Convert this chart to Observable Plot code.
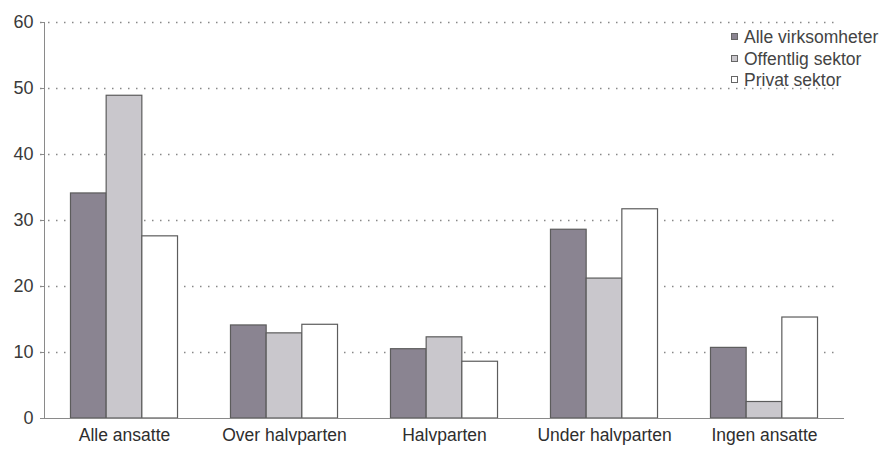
<!DOCTYPE html>
<html>
<head>
<meta charset="utf-8">
<script src="https://cdn.jsdelivr.net/npm/d3@7"></script>
<script src="https://cdn.jsdelivr.net/npm/@observablehq/plot@0.6"></script>
<style>
  body { margin: 0; background: #fff; }
  #wrap { position: relative; width: 885px; height: 457px; overflow: hidden; font-family: "Liberation Sans", Arial, sans-serif; }
  #legend { position: absolute; left: 731px; top: 27px; font-size: 17.5px; color: #444; line-height: 21.5px; white-space: nowrap; }
  #legend .sw { display: inline-block; width: 5px; height: 5px; border: 1px solid #666; margin-right: 6px; vertical-align: 3px; }
</style>
</head>
<body>
<div id="wrap"></div>
<script>
const categories = ["Alle ansatte", "Over halvparten", "Halvparten", "Under halvparten", "Ingen ansatte"];
const series = ["Alle virksomheter", "Offentlig sektor", "Privat sektor"];
const alleVirksomheter = [34.1, 14.1, 10.5, 28.6, 10.7];
const offentligSektor = [48.9, 12.9, 12.3, 21.2, 2.5];
const privatSektor = [27.6, 14.2, 8.6, 31.7, 15.3];
const yTicks = [0, 10, 20, 30, 40, 50, 60];
const colors = ["#8a8491", "#c9c7cc", "#ffffff"];

const valuesBySeries = [alleVirksomheter, offentligSektor, privatSektor];
const barW = 0.223;
const data = [];
categories.forEach((c, i) => {
  series.forEach((s, j) => {
    const x1 = i + (j - 1.5) * barW;
    data.push({category: c, series: s, value: valuesBySeries[j][i], x1, x2: x1 + barW});
  });
});

const chart = Plot.plot({
  width: 885,
  height: 457,
  marginLeft: 44,
  marginRight: 41,
  marginTop: 22,
  marginBottom: 39,
  style: {fontFamily: "Liberation Sans, Arial, sans-serif", fontSize: "17px", color: "#3a3a3a", background: "#fff"},
  x: {domain: [-0.5, 4.5], axis: null},
  y: {domain: [0, 60], axis: null},
  color: {domain: series, range: colors},
  marks: [
    Plot.ruleY(yTicks.filter(d => d > 0), {stroke: "#888", strokeDasharray: "1.5,6.5", strokeWidth: 1.3, x1: -0.5, x2: 4.5, dx: -4}),
    Plot.rectY(data, {x1: "x1", x2: "x2", y: "value", fill: "series", stroke: "#5c5c5c", strokeWidth: 1.2}),
    Plot.ruleX([-0.5], {stroke: "#8a8a8a", strokeWidth: 1}),
    Plot.ruleY([0], {stroke: "#8a8a8a", strokeWidth: 1, x1: -0.5, x2: 4.5}),
    Plot.axisY({ticks: yTicks, label: null, tickSize: 4, tickPadding: 7, stroke: "#8a8a8a", fontSize: 18, fill: "#3a3a3a"}),
    Plot.text(categories, {x: (d, i) => i, frameAnchor: "bottom", dy: 22, text: d => d, fontSize: 17.5, fill: "#2e2e2e"})
  ]
});

const wrap = document.getElementById("wrap");
wrap.appendChild(chart);

const legend = document.createElement("div");
legend.id = "legend";
series.forEach((s, j) => {
  const row = document.createElement("div");
  const sw = document.createElement("span");
  sw.className = "sw";
  sw.style.background = colors[j];
  row.appendChild(sw);
  row.appendChild(document.createTextNode(s));
  legend.appendChild(row);
});
wrap.appendChild(legend);
</script>
</body>
</html>
